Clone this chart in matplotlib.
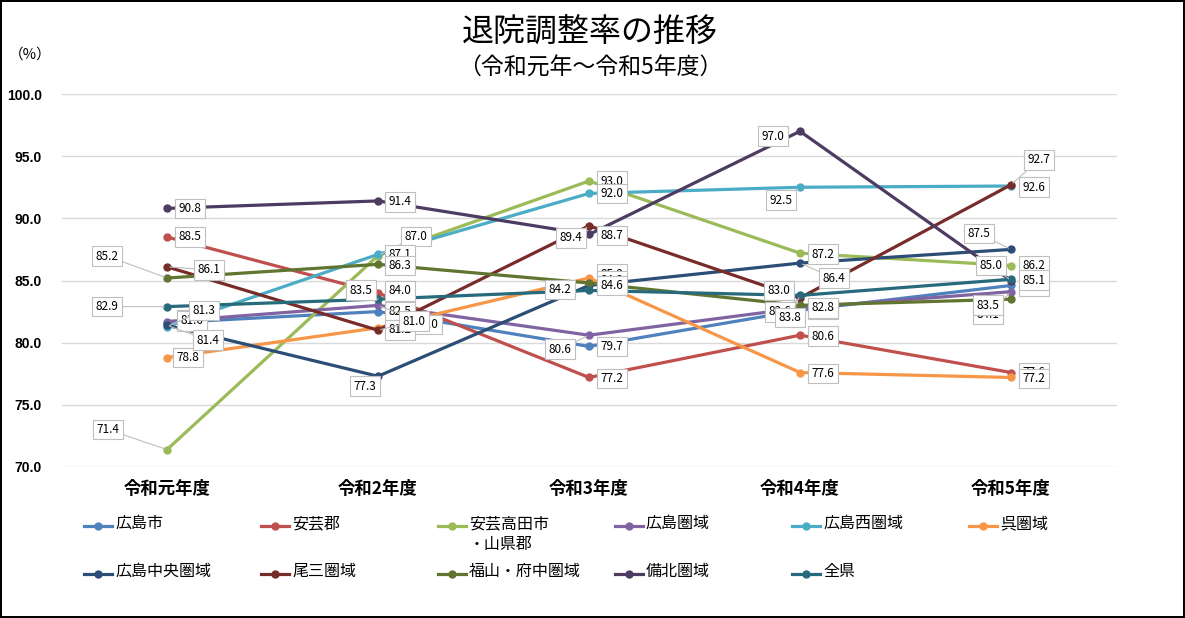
import matplotlib
matplotlib.use('Agg')
import matplotlib.pyplot as plt
from matplotlib.lines import Line2D

plt.rcParams['font.family'] = ['Noto Sans CJK JP', 'DejaVu Sans']

# データ（退院調整率, %）
years = ['令和元年度', '令和2年度', '令和3年度', '令和4年度', '令和5年度']
names = ['広島市', '安芸郡', '安芸高田市\n・山県郡', '広島圏域', '広島西圏域', '呉圏域',
         '広島中央圏域', '尾三圏域', '福山・府中圏域', '備北圏域', '全県']
hiroshima_shi = [81.6, 82.5, 79.7, 82.6, 84.6]
aki_gun = [88.5, 84.0, 77.2, 80.6, 77.6]
akitakata_yamagata = [71.4, 87.0, 93.0, 87.2, 86.2]
hiroshima_ken = [81.7, 83.0, 80.6, 82.8, 84.1]
hiroshima_nishi = [81.3, 87.1, 92.0, 92.5, 92.6]
kure = [78.8, 81.2, 85.2, 77.6, 77.2]
hiroshima_chuo = [81.4, 77.3, 84.6, 86.4, 87.5]
bisan = [86.1, 81.0, 89.4, 83.6, 92.7]
fukuyama_fuchu = [85.2, 86.3, 84.8, 83.0, 83.5]
bihoku = [90.8, 91.4, 88.7, 97.0, 85.0]
zenken = [82.9, 83.5, 84.2, 83.8, 85.1]
series = [hiroshima_shi, aki_gun, akitakata_yamagata, hiroshima_ken, hiroshima_nishi, kure,
          hiroshima_chuo, bisan, fukuyama_fuchu, bihoku, zenken]

colors = ['#4F81BD', '#C0504D', '#9BBB59', '#8064A2', '#4BACC6', '#F79646',
          '#2C4D75', '#772C2A', '#5F7530', '#4D3B62', '#276A7C']

# データラベルの位置（点からのずれ, pixel）
label_offsets = [
    [(25, 2), (22, 0), (23, 0), (23, 1), (23, -1)],
    [(23, 0), (22, 2), (23, -1), (23, -1), (23, 0)],
    [(-59, 20), (38, 19), (23, 0), (23, -1), (23, 0)],
    [(25, 2), (49, -19), (-29, -14), (23, 0), (-23, -23)],
    [(37, 16), (22, 0), (23, 0), (-19, -13), (23, -1)],
    [(21, 0), (22, -2), (23, 4), (23, -1), (23, -1)],
    [(41, -15), (-13, -10), (23, 0), (34, -15), (-32, 16)],
    [(42, -3), (36, 9), (-18, -12), (-20, -14), (28, 25)],
    [(-60, 22), (22, -1), (23, 2), (-21, 15), (-23, -6)],
    [(23, 0), (22, -1), (23, -1), (-27, -5), (-20, 15)],
    [(-60, 0), (-17, 9), (-29, 1), (-10, -22), (23, -1)],
]
# 重なり順を下げる/上げるラベル (系列, 年度): zorder
label_z = {(3, 0): 4.5, (6, 2): 6}

W, H = 1185, 618
fig = plt.figure(figsize=(W / 100, H / 100), dpi=100)
fig.patch.set_edgecolor('black')
fig.patch.set_linewidth(1.5)

ax = fig.add_axes([61.5 / W, 1 - 467 / H, 1055 / W, 373 / H])
x = list(range(len(years)))

for vals, c in zip(series, colors):
    ax.plot(x, vals, color=c, lw=2.3, marker='o', ms=5, solid_capstyle='round', zorder=3)

for si, (vals, offs) in enumerate(zip(series, label_offsets)):
    for xi, v, (dx, dy) in zip(x, vals, offs):
        arrow = None
        if abs(dy) > 6 or abs(dx) > 30:
            arrow = dict(arrowstyle='-', color='#BFBFBF', lw=0.8, shrinkA=0, shrinkB=2)
        ax.annotate(f'{v:.1f}', xy=(xi, v), xytext=(dx, dy), textcoords='offset pixels',
                    ha='center', va='center', fontsize=8.5, color='black',
                    zorder=label_z.get((si, xi), 5),
                    bbox=dict(boxstyle='square,pad=0.28', fc='white', ec='#BFBFBF', lw=0.8),
                    arrowprops=arrow)

ax.set_xlim(-0.5, 4.5)
ax.set_ylim(70, 100)
ax.set_yticks([70, 75, 80, 85, 90, 95, 100])
ax.set_yticklabels([f'{t:.1f}' for t in [70, 75, 80, 85, 90, 95, 100]],
                   fontsize=10, fontweight='bold', family='Liberation Sans')
ax.set_xticks(x)
ax.set_xticklabels(years, fontsize=12.5, fontweight='bold')
ax.tick_params(axis='y', length=0, pad=14)
ax.tick_params(axis='x', length=0, pad=9)
ax.grid(axis='y', color='#D9D9D9', lw=1)
ax.set_axisbelow(True)
for s in ax.spines.values():
    s.set_visible(False)

fig.text(590 / W, 1 - 33 / H, '退院調整率の推移', ha='center', va='center', fontsize=23)
fig.text(590 / W, 1 - 68 / H, '（令和元年～令和5年度）', ha='center', va='center', fontsize=16.5)
fig.text(30 / W, 1 - 55 / H, '（%）', ha='center', va='center', fontsize=10.5)

# 凡例（Excel風に手で配置）
col_x = [84 + 177 * i for i in range(6)]
row_y = [526, 574]
for i, (name, c) in enumerate(zip(names, colors)):
    r, k = divmod(i, 6)
    x0 = col_x[k]
    y0 = 1 - row_y[r] / H
    fig.add_artist(Line2D([x0 / W, (x0 + 28) / W], [y0, y0], transform=fig.transFigure,
                          color=c, lw=2.3))
    fig.add_artist(Line2D([(x0 + 14) / W], [y0], transform=fig.transFigure,
                          color=c, marker='o', ms=5))
    fig.text((x0 + 31) / W, y0 + 11 / H, name, ha='left', va='top', fontsize=11.5,
             linespacing=1.3)

fig.savefig('out.png', dpi=100, edgecolor=fig.get_edgecolor())
plt.close(fig)
